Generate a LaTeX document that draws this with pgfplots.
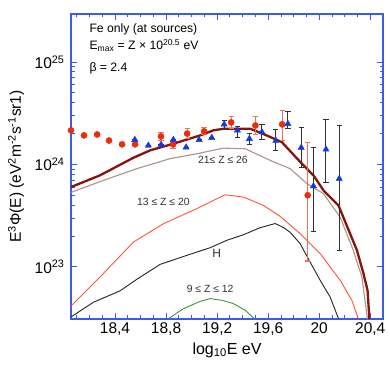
\documentclass[border=0pt]{standalone}
\usepackage{fontspec}
\setmainfont{Liberation Sans}
\usepackage{pgfplots}
\pgfplotsset{compat=1.18}
\definecolor{axblue}{RGB}{60,90,235}
\definecolor{totred}{RGB}{135,20,10}
\definecolor{heavy}{RGB}{175,145,140}
\definecolor{cno}{RGB}{250,85,55}
\definecolor{hline}{RGB}{35,35,35}
\definecolor{gline}{RGB}{60,150,60}
\definecolor{ptred}{RGB}{235,45,15}
\definecolor{errred}{RGB}{245,110,85}
\definecolor{ptblue}{RGB}{20,55,230}
\definecolor{errblk}{RGB}{50,50,50}
\begin{document}
\begin{tikzpicture}
\begin{axis}[
  scale only axis, width=312pt, height=305pt,
  xmin=18.055, xmax=20.5,
  ymode=log, ymin=3.1e22, ymax=2.94e25,
  axis line style={axblue, line width=1.2pt},
  tick style={axblue, line width=0.8pt},
  tick align=inside,
  major tick length=6pt, minor tick length=3.5pt,
  xtick={18.4,18.8,19.2,19.6,20,20.4},
  xticklabels={{18,4},{18,8},{19,2},{19,6},{20},{20,4}},
  minor xtick={18.1,18.2,18.3,18.5,18.6,18.7,18.9,19.0,19.1,19.3,19.4,19.5,19.7,19.8,19.9,20.1,20.2,20.3},
  ytick={1e23,1e24,1e25},
  yticklabels={10\textsuperscript{23},10\textsuperscript{24},10\textsuperscript{25}},
  tick label style={font=\fontsize{15.5}{18}\selectfont, black},
  yticklabel style={xshift=-3pt},
  xlabel={log\textsubscript{10}E eV},
  ylabel={E\textsuperscript{3}Φ(E) (eV\textsuperscript{2}m\textsuperscript{-2}s\textsuperscript{-1}sr1)},
  x label style={at={(axis description cs:0.5,-0.102)}, anchor=center, font=\fontsize{16}{19}\selectfont},
  y label style={at={(axis description cs:-0.176,0.5)}, anchor=center, font=\fontsize{15.5}{18}\selectfont},
  clip mode=individual,
]
\coordinate (bl) at (rel axis cs:0,0);
\coordinate (tr) at (rel axis cs:1,1);

% 9 <= Z <= 12
\addplot[gline, line width=0.9pt] coordinates {
(18.8,3.01e22) (18.936,3.91e22) (19.067,4.60e22) (19.145,4.90e22) (19.24,4.71e22)
(19.328,4.38e22) (19.42,3.77e22) (19.498,3.08e22)};
% H
\addplot[hline, line width=0.9pt] coordinates {
(18.055,3.24e22) (18.230,4.51e22) (18.439,5.83e22) (18.570,7.55e22) (18.753,1.057e23)
(18.962,1.294e23) (19.145,1.538e23) (19.276,1.816e23) (19.406,2.06e23) (19.537,2.41e23)
(19.655,2.65e23) (19.718,2.43e23) (19.773,2.17e23) (19.851,1.683e23) (19.929,1.114e23)
(20.008,7.38e22) (20.086,5.07e22) (20.151,3.13e22)};
% 13 <= Z <= 20
\addplot[cno, line width=0.9pt] coordinates {
(18.047,4.06e22) (18.308,8.59e22) (18.544,1.746e23) (18.779,2.636e23) (19.041,3.70e23)
(19.263,5.06e23) (19.406,4.80e23) (19.563,3.98e23) (19.694,3.11e23) (19.851,2.11e23)
(20.008,1.346e23) (20.165,7.38e22) (20.256,4.71e22) (20.308,3.08e22)};
% 21 <= Z <= 26
\addplot[heavy, line width=1.1pt] coordinates {
(18.055,5.33e23) (18.308,6.98e23) (18.570,9.08e23) (18.831,1.138e24) (19.041,1.271e24)
(19.249,1.442e24) (19.420,1.422e24) (19.616,1.094e24) (19.773,9.08e23) (19.904,6.49e23)
(20.034,5.18e23) (20.165,3.04e23) (20.267,1.449e23) (20.335,7.94e22) (20.379,3.01e22)};
% total
\addplot[totred, line width=2.3pt] coordinates {
(18.055,6.01e23) (18.282,7.82e23) (18.544,1.161e24) (18.675,1.371e24) (18.857,1.592e24)
(19.067,1.919e24) (19.171,2.15e24) (19.249,2.228e24) (19.459,2.228e24) (19.553,2.004e24)
(19.707,1.652e24) (19.864,1.016e24) (19.955,7.82e23) (20.034,5.57e23) (20.151,3.98e23)
(20.296,1.449e23) (20.347,8.59e22) (20.379,5.90e22) (20.394,3.01e22)};

% red data
\addplot[only marks, mark=*, mark size=3.1pt, color=ptred,
  error bars/.cd, y dir=both, y explicit,
  error bar style={errred, line width=1.2pt},
  error mark options={errred, rotate=90, mark size=2.6pt, line width=1.2pt}]
 table[x=x, y=y, y error plus=ep, y error minus=em] {
x y ep em
18.055 2.15e24 0 0
18.157 1.92e24 0 0
18.260 1.96e24 0 0
18.353 1.71e24 0 0
18.455 1.57e24 0 0
18.557 1.57e24 0 0
18.760 1.88e24 0.17e24 0.17e24
18.855 1.57e24 0.14e24 0.14e24
18.965 2.00e24 0.23e24 0.22e24
19.098 2.10e24 0.21e24 0.15e24
19.310 2.57e24 0.37e24 0.32e24
19.500 2.40e24 0.56e24 0.44e24
19.710 2.46e24 0.90e24 0.75e24
19.910 5.00e23 1.15e24 3.86e23
};
% blue data
\addplot[only marks, mark=triangle*, mark size=3.6pt, color=ptblue,
  error bars/.cd, y dir=both, y explicit,
  error bar style={errblk, line width=1pt},
  error mark options={errblk, rotate=90, mark size=2.6pt, line width=1pt}]
 table[x=x, y=y, y error plus=ep, y error minus=em] {
x y ep em
18.555 1.74e24 0 0
18.661 1.53e24 0 0
18.761 1.56e24 0 0
18.857 1.74e24 0 0
18.957 1.47e24 0 0
19.059 1.74e24 0 0
19.158 1.82e24 0 0
19.255 2.46e24 0.22e24 0.21e24
19.359 2.15e24 0.20e24 0.32e24
19.453 1.78e24 0.22e24 0.21e24
19.551 2.07e24 0.39e24 0.32e24
19.660 1.71e24 0.48e24 0.34e24
19.755 2.49e24 0.80e24 0.24e24
19.859 1.46e24 0.84e24 0.525e24
19.955 6.14e23 8.56e23 3.92e23
20.053 1.40e24 1.35e24 7.33e23
20.157 7.25e23 1.675e24 5.80e23
};

\node[anchor=base west, font=\fontsize{12.2}{14}\selectfont] at (rel axis cs:0.048,0.939) {Fe only (at sources)};
\node[anchor=base west, font=\fontsize{12.2}{14}\selectfont] at (rel axis cs:0.048,0.882) {E\textsubscript{max} = Z × 10\textsuperscript{20.5} eV};
\node[anchor=base west, font=\fontsize{12.2}{14}\selectfont] at (rel axis cs:0.048,0.813) {β = 2.4};
\node[font=\fontsize{10.4}{12}\selectfont, text=errblk] at (rel axis cs:0.487,0.521) {21≤ Z ≤ 26};
\node[font=\fontsize{10.4}{12}\selectfont, text=errblk] at (rel axis cs:0.296,0.383) {13 ≤ Z ≤ 20};
\node[font=\fontsize{12}{14}\selectfont, text=errblk] at (rel axis cs:0.467,0.215) {H};
\node[font=\fontsize{10.4}{12}\selectfont, text=errblk] at (rel axis cs:0.446,0.098) {9 ≤ Z ≤ 12};
\end{axis}
\pgfresetboundingbox
\path[use as bounding box] ([shift={(-71pt,-52pt)}]bl) rectangle ([shift={(7pt,14pt)}]tr);
\end{tikzpicture}
\end{document}
